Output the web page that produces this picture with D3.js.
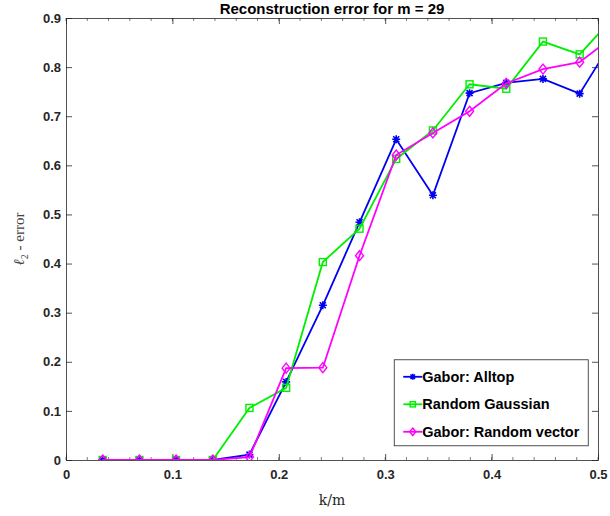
<!DOCTYPE html>
<html>
<head>
<meta charset="utf-8">
<script src="https://cdn.jsdelivr.net/npm/d3@7"></script>
<style>
  body { margin: 0; background: #fff; }
  svg text { font-family: Arial, "Liberation Sans", sans-serif; }
</style>
</head>
<body>
<div class="chart"></div>
<script>
// k/m for m = 29, k = 1..15
var m = 29;
var kValues = [1, 2, 3, 4, 5, 6, 7, 8, 9, 10, 11, 12, 13, 14, 15];

var alltop = [0, 0, 0, 0, 0.011, 0.159, 0.315, 0.484, 0.653, 0.539, 0.747, 0.768, 0.776, 0.746, 0.866];
var gaussian = [0, 0, 0, 0, 0.106, 0.147, 0.403, 0.471, 0.613, 0.671, 0.765, 0.756, 0.852, 0.826, 0.907];
var randVec = [0, 0, 0, 0, 0.006, 0.187, 0.188, 0.416, 0.621, 0.666, 0.710, 0.767, 0.796, 0.810, 0.867];

var xTicks = [0, 0.1, 0.2, 0.3, 0.4, 0.5];
var yTicks = [0, 0.1, 0.2, 0.3, 0.4, 0.5, 0.6, 0.7, 0.8, 0.9];

var series = [
    { name: "Gabor: Alltop", values: alltop, color: "#0000f0", marker: "star" },
    { name: "Random Gaussian", values: gaussian, color: "#00ee00", marker: "square" },
    { name: "Gabor: Random vector", values: randVec, color: "#ff00ff", marker: "diamond" }
];

var margin = { top: 18, right: 12, bottom: 56, left: 66 },
    width = 610 - margin.left - margin.right,
    height = 516 - margin.top - margin.bottom;

var svg = d3.select(".chart")
    .append("svg")
    .attr("width", 610)
    .attr("height", 516)
    .append("g")
    .attr("transform", "translate(" + margin.left + "," + margin.top + ")");

var x = d3.scaleLinear().domain([0, 0.5]).range([0, width]);
var y = d3.scaleLinear().domain([0, 0.9]).range([height, 0]);

var axisColor = "#262626";

// clip path for the plot box
svg.append("clipPath").attr("id", "clip")
    .append("rect").attr("width", width).attr("height", height);

// minor ticks on x (0.02)
var minor = d3.range(0, 0.5001, 0.02);
svg.append("g").selectAll("line.minb")
    .data(minor).enter().append("line")
    .attr("x1", function (d) { return x(d); }).attr("x2", function (d) { return x(d); })
    .attr("y1", height).attr("y2", height - 3)
    .attr("stroke", axisColor).attr("stroke-width", 0.6);
svg.append("g").selectAll("line.mint")
    .data(minor).enter().append("line")
    .attr("x1", function (d) { return x(d); }).attr("x2", function (d) { return x(d); })
    .attr("y1", 0).attr("y2", 3)
    .attr("stroke", axisColor).attr("stroke-width", 0.6);

// axes
var xAxis = svg.append("g")
    .attr("transform", "translate(0," + height + ")")
    .call(d3.axisBottom(x).tickValues(xTicks).tickSizeInner(-6).tickSizeOuter(0)
        .tickPadding(10).tickFormat(d3.format("~g")));
var xTop = svg.append("g")
    .call(d3.axisTop(x).tickValues(xTicks).tickSizeInner(-6).tickSizeOuter(0).tickFormat(""));
var yAxis = svg.append("g")
    .call(d3.axisLeft(y).tickValues(yTicks).tickSizeInner(-6).tickSizeOuter(0)
        .tickPadding(5).tickFormat(d3.format("~g")));
var yRight = svg.append("g")
    .attr("transform", "translate(" + width + ",0)")
    .call(d3.axisRight(y).tickValues(yTicks).tickSizeInner(-6).tickSizeOuter(0).tickFormat(""));

[xAxis, xTop, yAxis, yRight].forEach(function (a) {
    a.selectAll("path").attr("stroke", axisColor).attr("stroke-width", 0.8);
    a.selectAll("line").attr("stroke", axisColor).attr("stroke-width", 0.8);
    a.selectAll("text")
        .attr("fill", axisColor)
        .style("font-size", "13px")
        .style("font-weight", "bold")
        .style("font-family", "Arial, 'Liberation Sans', sans-serif");
});

// lines and markers
var line = d3.line()
    .x(function (d, i) { return x(kValues[i] / m); })
    .y(function (d) { return y(d); });

var plot = svg.append("g").attr("clip-path", "url(#clip)");

function drawMarker(g, type, cx, cy, color, s) {
    s = s || 1;
    if (type === "square") {
        g.append("rect").attr("x", cx - 3.5 * s).attr("y", cy - 3.5 * s)
            .attr("width", 7 * s).attr("height", 7 * s)
            .attr("fill", "none").attr("stroke", color).attr("stroke-width", 1.4);
    } else if (type === "diamond") {
        g.append("path")
            .attr("d", "M" + cx + "," + (cy - 5 * s) + "L" + (cx + 4 * s) + "," + cy + "L" + cx + "," + (cy + 5 * s) + "L" + (cx - 4 * s) + "," + cy + "Z")
            .attr("fill", "none").attr("stroke", color).attr("stroke-width", 1.4);
    } else {
        var r = 4 * s, q = 3 * s;
        g.append("path")
            .attr("d", "M" + (cx - r) + "," + cy + "L" + (cx + r) + "," + cy +
                "M" + cx + "," + (cy - r) + "L" + cx + "," + (cy + r) +
                "M" + (cx - q) + "," + (cy - q) + "L" + (cx + q) + "," + (cy + q) +
                "M" + (cx - q) + "," + (cy + q) + "L" + (cx + q) + "," + (cy - q))
            .attr("stroke", color).attr("stroke-width", 1.6);
    }
}

series.forEach(function (s) {
    plot.append("path")
        .datum(s.values)
        .attr("fill", "none")
        .attr("stroke", s.color)
        .attr("stroke-width", 1.8)
        .attr("d", line);
    var mg = plot.append("g");
    s.values.forEach(function (v, i) {
        drawMarker(mg, s.marker, x(kValues[i] / m), y(v), s.color);
    });
});

// title
svg.append("text")
    .attr("x", width / 2)
    .attr("y", -4)
    .attr("text-anchor", "middle")
    .attr("fill", "#000")
    .style("font-size", "15px")
    .style("font-weight", "bold")
    .text("Reconstruction error for m = 29");

// axis labels
svg.append("text")
    .attr("x", width / 2)
    .attr("y", height + 45)
    .attr("text-anchor", "middle")
    .attr("fill", "#262626")
    .style("font-family", "'DejaVu Serif', 'Liberation Serif', serif")
    .style("font-size", "14px")
    .text("k/m");

var yl = svg.append("text")
    .attr("transform", "translate(" + (-42) + "," + (height / 2) + ") rotate(-90)")
    .attr("text-anchor", "middle")
    .attr("fill", "#444")
    .style("font-family", "'Liberation Serif', 'DejaVu Serif', serif")
    .style("font-size", "15px");
yl.append("tspan").style("font-style", "italic").text("ℓ");
yl.append("tspan").attr("dy", 4).style("font-size", "10px").text("2");
yl.append("tspan").attr("dy", -4).text(" - error");

// legend
var lx = x(0.3085), ly = y(0.2) - 2, lw = 194, lh = 86;
var legend = svg.append("g").attr("transform", "translate(" + lx + "," + ly + ")");
legend.append("rect")
    .attr("width", lw).attr("height", lh)
    .attr("fill", "#fff")
    .attr("stroke", "#262626").attr("stroke-width", 0.8);
series.forEach(function (s, i) {
    var ry = 17 + i * 27.5;
    legend.append("line")
        .attr("x1", 9).attr("x2", 28).attr("y1", ry).attr("y2", ry)
        .attr("stroke", s.color).attr("stroke-width", 1.8);
    drawMarker(legend, s.marker, 18.5, ry, s.color, 0.75);
    legend.append("text")
        .attr("x", 28).attr("y", ry + 5)
        .attr("fill", "#000")
        .style("font-size", "14.5px")
        .style("font-weight", "bold")
        .text(s.name);
});
</script>
</body>
</html>
